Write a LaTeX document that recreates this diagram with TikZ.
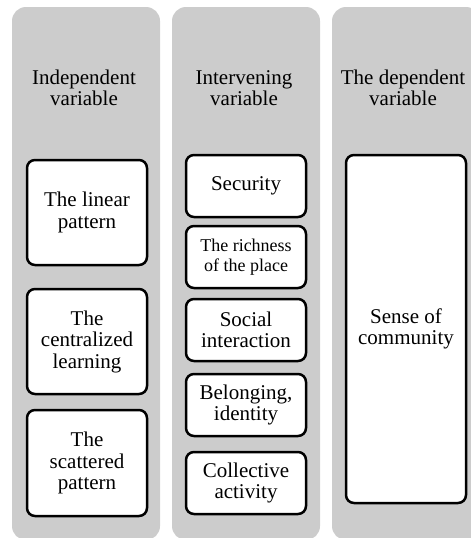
\documentclass[tikz,border=0pt]{standalone}
\usepackage{fontspec}
\setmainfont{Liberation Serif}
\usepackage{tikz}
\usetikzlibrary{positioning}
\definecolor{lanegray}{RGB}{204,204,204}

\begin{document}
\begin{tikzpicture}[x=1pt, y=-1pt, font=\fontsize{21}{21.5}\selectfont,
    lane/.style={fill=lanegray, rounded corners=14pt, minimum width=148pt, minimum height=533pt, inner sep=0pt},
    head/.style={align=center},
    item/.style={draw, line width=2.5pt, rounded corners=8pt, fill=white, minimum width=120pt, align=center, inner sep=0pt}]
        \clip (0,0) rectangle (471,538);

        % three lanes
        \node (laneA) [lane] at (86,273.5) {};
        \node (laneB) [lane] at (246,273.5) {};
        \node (laneC) [lane] at (406,273.5) {};

        \node (headA) [head] at (84,88) {Independent\\variable};
        \node (headB) [head] at (244,88) {Intervening\\variable};
        \node (headC) [head] at (403,88) {The dependent\\variable};

        % independent variable
        \node (linear) [item, minimum height=105pt] at (87,212.5) {The linear\\pattern};
        \node (central) [item, minimum height=105pt] at (87,341.5) {The\\centralized\\learning};
        \node (scatter) [item, minimum height=106pt] at (87,463) {The\\scattered\\pattern};

        % intervening variable
        \node (security) [item, minimum height=62pt] at (246,186) {Security};
        \node (richness) [item, minimum height=62pt, font=\fontsize{18}{20}\selectfont] at (246,257) {The richness\\of the place};
        \node (social) [item, minimum height=62pt] at (246,330) {Social\\interaction};
        \node (belong) [item, minimum height=62pt] at (246,405) {Belonging,\\identity};
        \node (collect) [item, minimum height=62pt] at (246,483) {Collective\\activity};

        % dependent variable
        \node (sense) [item, minimum height=348pt] at (406,329) {Sense of\\community};
    \end{tikzpicture}
\end{document}
